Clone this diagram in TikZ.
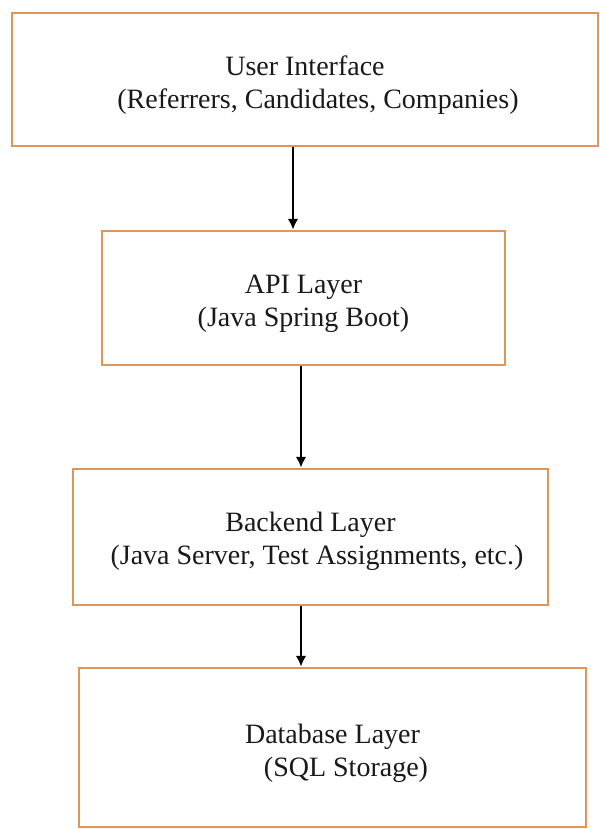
\documentclass[tikz,border=0pt]{standalone}
\usepackage{fontspec}
\setmainfont{Liberation Serif}
\usepackage{xcolor}
\usetikzlibrary{arrows.meta}
\definecolor{boxorange}{RGB}{224,150,88}
\tikzset{>={Latex[length=8pt,width=8pt]}}
\tikzset{layer/.style={draw=boxorange,line width=2.2pt,inner sep=0pt},
	txt/.style={align=center,inner sep=0pt,text=black!90,font=\fontsize{21}{24.75}\selectfont}}

\begin{document}
\begin{tikzpicture}[x=0.75pt,y=-0.75pt]
            \useasboundingbox (0,0) rectangle (600,829);
            \node[layer,minimum width=439.5pt,minimum height=99.75pt] (ui) at (305,79.5) {};
            \node[layer,minimum width=302.25pt,minimum height=100.5pt] (api) at (303.5,298) {};
            \node[layer,minimum width=356.25pt,minimum height=102pt] (backend) at (310.5,537) {};
            \node[layer,minimum width=380.25pt,minimum height=119.25pt] (db) at (332.5,747.5) {};
            \node[txt] (uiText) at (305,85.5) {User Interface\\\hspace*{19.5pt}(Referrers, Candidates, Companies)};
            \node[txt] (apiText) at (303.5,304) {API Layer\\(Java Spring Boot)};
            \node[txt] (backendText) at (310.5,541.5) {Backend Layer\\\hspace*{9.75pt}(Java Server, Test Assignments, etc.)};
            \node[txt] (dbText) at (332.5,753.5) {Database Layer\\\hspace*{20.25pt}(SQL Storage)};
            \coordinate (a1) at (293,0);
            \coordinate (a2) at (301,0);
            \draw[->,line width=2.1pt] (ui.south -| a1) -- (api.north -| a1);
            \draw[->,line width=2.1pt] (api.south -| a2) -- (backend.north -| a2);
            \draw[->,line width=2.1pt] (backend.south -| a2) -- (db.north -| a2);
        \end{tikzpicture}
\end{document}
